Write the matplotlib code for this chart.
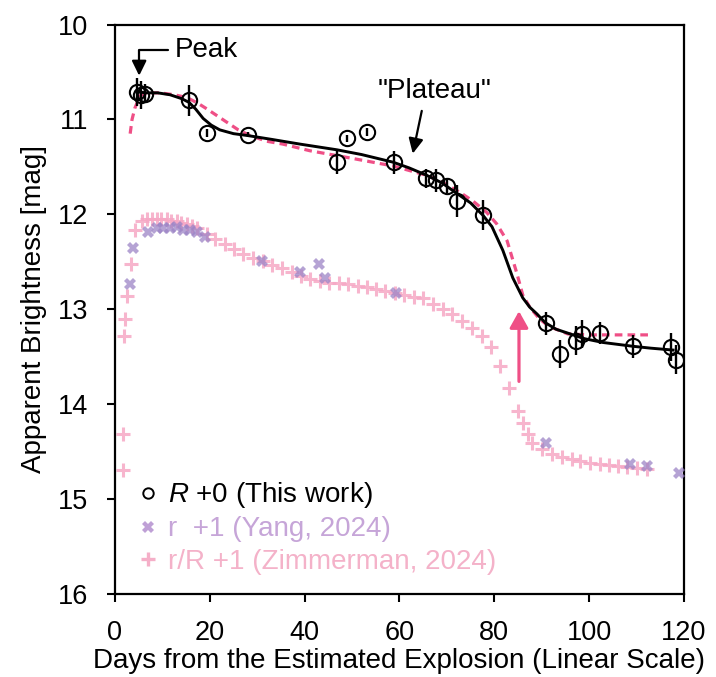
import matplotlib
matplotlib.use('Agg')
import matplotlib.pyplot as plt
from matplotlib.lines import Line2D

plt.rcParams['font.family'] = ['Liberation Sans', 'DejaVu Sans']
plt.rcParams['mathtext.fontset'] = 'custom'
plt.rcParams['mathtext.it'] = 'Liberation Sans:italic'
plt.rcParams['mathtext.rm'] = 'Liberation Sans'

# ---- This work (R band) ----
r_days = [4.6, 5.5, 6.4, 15.6, 19.4, 28.0, 46.8, 48.9, 53.1, 58.8, 65.6, 67.7,
          70.0, 72.1, 77.6, 90.9, 93.8, 97.2, 98.5, 102.3, 109.2, 117.3, 118.3]
r_mag = [10.71, 10.74, 10.73, 10.80, 11.14, 11.16, 11.45, 11.20, 11.13, 11.45, 11.62, 11.64,
         11.70, 11.86, 12.01, 13.15, 13.47, 13.33, 13.26, 13.25, 13.39, 13.40, 13.53]
r_err = [0.15, 0.15, 0.10, 0.16, 0.04, 0.03, 0.12, 0.04, 0.04, 0.12, 0.10, 0.12,
         0.08, 0.17, 0.16, 0.12, 0.15, 0.15, 0.15, 0.12, 0.12, 0.15, 0.15]

# ---- fitted curve (black solid) ----
fit_days = [4.6, 6.7, 9.0, 11.6, 14.0, 15.6, 17.0, 18.6, 20.3, 22.1, 25.0, 28.0, 33.0,
            39.0, 46.8, 52.0, 58.6, 62.0, 65.8, 69.0, 72.1, 75.0, 77.6, 79.5, 81.8,
            83.9, 86.0, 87.5, 89.0, 90.7, 93.0, 96.0, 99.0, 102.9, 109.2, 113.0, 117.7]
fit_mag = [10.71, 10.72, 10.72, 10.74, 10.78, 10.82, 10.89, 10.99, 11.06, 11.11, 11.15, 11.17, 11.21,
           11.26, 11.32, 11.37, 11.45, 11.51, 11.59, 11.67, 11.78, 11.88, 12.01, 12.13, 12.38,
           12.67, 12.88, 12.98, 13.05, 13.14, 13.21, 13.26, 13.31, 13.35, 13.39, 13.41, 13.43]

# ---- model curve (pink dashed) ----
mod_days = [3.2, 3.6, 4.2, 5.3, 7.0, 9.5, 12.5, 15.2, 17.5, 19.4, 21.5, 23.6, 26.0, 28.5,
            32.0, 35.4, 41.1, 48.9, 58.6, 65.8, 69.0, 72.8, 75.5, 78.4, 80.5, 82.7, 84.8,
            86.0, 87.5, 89.5, 91.5, 95.5, 100.0, 105.0, 112.8]
mod_mag = [11.15, 11.00, 10.88, 10.75, 10.72, 10.72, 10.74, 10.77, 10.83, 10.89, 10.96, 11.03, 11.11, 11.17,
           11.23, 11.26, 11.33, 11.40, 11.49, 11.59, 11.66, 11.77, 11.86, 11.98, 12.10, 12.28, 12.63,
           12.85, 12.98, 13.10, 13.18, 13.26, 13.27, 13.27, 13.27]

# ---- Zimmerman 2024 (r/R), raw magnitudes ----
z_days = [1.6, 1.7, 2.0, 2.1, 2.5, 3.3, 4.2, 5.6, 6.7, 7.7, 8.8, 9.8, 10.9, 11.9, 13.0, 14.0,
          15.1, 16.2, 17.2, 19.4, 21.1, 23.2, 25.1, 27.0, 29.1, 31.2, 33.1, 35.2, 37.3, 39.2,
          41.1, 43.2, 45.1, 47.2, 49.1, 51.2, 53.2, 55.1, 57.0, 59.0, 61.0, 63.0, 65.0, 67.1,
          69.2, 71.1, 73.2, 75.3, 77.4, 79.2, 81.2, 83.1, 85.0, 86.0, 87.0, 88.0, 90.0, 92.2,
          94.3, 96.4, 98.1, 100.2, 102.3, 104.2, 106.1, 108.0, 110.1, 112.2]
z_mag = [13.69, 13.31, 12.28, 12.10, 11.86, 11.52, 11.17, 11.07, 11.05, 11.05, 11.05, 11.05, 11.05, 11.07, 11.07, 11.09,
         11.10, 11.12, 11.14, 11.21, 11.26, 11.31, 11.36, 11.42, 11.46, 11.49, 11.53, 11.57, 11.61, 11.65,
         11.68, 11.70, 11.72, 11.72, 11.73, 11.75, 11.77, 11.79, 11.81, 11.83, 11.85, 11.87, 11.88, 11.94,
         12.00, 12.05, 12.12, 12.20, 12.28, 12.40, 12.60, 12.83, 13.07, 13.20, 13.31, 13.41, 13.47, 13.52,
         13.56, 13.58, 13.60, 13.62, 13.63, 13.64, 13.65, 13.66, 13.67, 13.68]

# ---- Yang 2024 (r), raw magnitudes ----
y_days = [3.2, 3.7, 7.0, 8.8, 10.1, 11.6, 13.0, 14.4, 15.8, 17.3, 19.0, 31.0, 39.0, 43.0,
          44.3, 59.3, 90.9, 108.6, 112.2, 118.9]
y_mag = [11.73, 11.35, 11.19, 11.14, 11.14, 11.14, 11.13, 11.16, 11.16, 11.19, 11.24, 11.49, 11.61, 11.52,
         11.67, 11.83, 13.41, 13.63, 13.65, 13.72]

offset = 1.0
x_ticks = [0, 20, 40, 60, 80, 100, 120]
y_ticks = [10, 11, 12, 13, 14, 15, 16]

PINK_PT = '#F6A8C5'
PURPLE = '#9C84C6'
MODEL = '#EF4F86'

fig = plt.figure(figsize=(7.16, 6.77), dpi=100)
ax = fig.add_axes([0.1606, 0.1226, 0.7947, 0.8412])

ax.plot(z_days, [m + offset for m in z_mag], ls='none', marker='+', ms=10, mew=2.2,
        color=PINK_PT, alpha=0.85, zorder=2)
ax.plot(y_days, [m + offset for m in y_mag], ls='none', marker='X', ms=8.5, mew=0,
        color=PURPLE, alpha=0.75, zorder=3)
ax.plot(mod_days, mod_mag, ls=(0, (2.4, 1.6)), lw=2.3, color=MODEL, zorder=4)
ax.plot(fit_days, fit_mag, ls='-', lw=2.1, color='k', zorder=5)
ax.errorbar(r_days, r_mag, yerr=r_err, fmt='o', mfc='none', mec='k', ms=11, mew=1.5,
            ecolor='k', elinewidth=1.7, capsize=0, zorder=6)

ax.set_xlim(0, 120)
ax.set_ylim(16, 10)
ax.set_xticks(x_ticks)
ax.set_yticks(y_ticks)
ax.tick_params(direction='out', length=6, width=1.5, labelsize=19.5)
ax.tick_params(axis='x', pad=13)
ax.tick_params(axis='y', pad=13)
for s in ax.spines.values():
    s.set_linewidth(1.6)

ax.set_xlabel('Days from the Estimated Explosion (Linear Scale)', fontsize=20, labelpad=1)
ax.set_ylabel('Apparent Brightness [mag]', fontsize=20, labelpad=8)

arrow_kw = dict(arrowstyle='-|>,head_length=0.45,head_width=0.22', color='k', lw=1.6,
                mutation_scale=20)
ax.annotate('Peak', xy=(5.1, 10.54), xytext=(12.7, 10.27), ha='left', va='center', fontsize=20,
            arrowprops=dict(connectionstyle='angle,angleA=0,angleB=90,rad=0', shrinkA=3,
                            shrinkB=0, relpos=(0, 0.5), **arrow_kw))
ax.annotate('', xy=(62.8, 11.36), xytext=(64.7, 10.91),
            arrowprops=dict(shrinkA=0, shrinkB=0, **arrow_kw))
ax.text(67.5, 10.70, '"Plateau"', ha='center', va='center', fontsize=20)
ax.annotate('', xy=(85.2, 13.02), xytext=(85.2, 13.76),
            arrowprops=dict(arrowstyle='-|>,head_length=0.5,head_width=0.28', color=MODEL,
                            lw=2.3, shrinkA=0, shrinkB=0, mutation_scale=20))

handles = [
    Line2D([], [], ls='none', marker='o', mfc='none', mec='k', ms=7.5, mew=1.4),
    Line2D([], [], ls='none', marker='X', ms=8.5, mew=0, color='#BFA0D6'),
    Line2D([], [], ls='none', marker='+', ms=10, mew=2.4, color='#F5AFC8'),
]
labels = [r'$\mathit{R}$ +0 (This work)', 'r  +1 (Yang, 2024)', 'r/R +1 (Zimmerman, 2024)']
ax.legend(handles, labels, loc='lower left', bbox_to_anchor=(0.01, 0.0), frameon=False,
          fontsize=20, handlelength=0.6, handletextpad=0.4, labelspacing=0.22,
          borderaxespad=0.3, labelcolor=['k', '#C6A5D8', '#F4B2C9'])

fig.savefig('out.png', dpi=100)
